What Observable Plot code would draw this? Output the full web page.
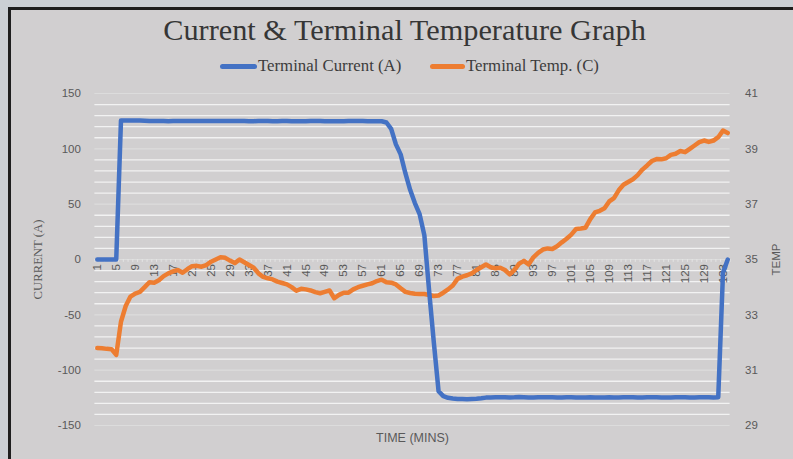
<!DOCTYPE html>
<html><head><meta charset="utf-8">
<script src="https://cdn.jsdelivr.net/npm/d3@7"></script>
<script src="https://cdn.jsdelivr.net/npm/@observablehq/plot@0.6"></script>
<style>
html,body{margin:0;padding:0;background:#cbcfd4;}
#wrap{position:relative;width:793px;height:459px;overflow:hidden;background:#cbcfd4;}
#frame{position:absolute;left:8px;top:7px;width:800px;height:470px;background:#d1cfd0;border-left:3px solid #1e1e1e;border-top:3px solid #1e1e1e;box-sizing:border-box;}
#title{position:absolute;left:8px;width:793px;top:15px;line-height:30px;text-align:center;font-family:"Liberation Serif",serif;font-size:30.3px;color:#363636;white-space:nowrap;}
.sw{position:absolute;height:5px;border-radius:3px;top:64px;}
.lt{position:absolute;top:57px;line-height:17px;font-family:"Liberation Serif",serif;font-size:16.8px;color:#3c3c3c;white-space:nowrap;}
#chart{position:absolute;left:0;top:80px;}
</style></head>
<body><div id="wrap"><div id="frame"></div>
<div id="title">Current &amp; Terminal Temperature Graph</div>
<div class="sw" style="left:220px;width:37px;background:#4472C4"></div>
<div class="lt" style="left:258px">Terminal Current (A)</div>
<div class="sw" style="left:430px;width:35px;background:#ED7D31"></div>
<div class="lt" style="left:466px">Terminal Temp. (C)</div>
<div id="chart"></div></div>
<script>
// categories: minutes 1..134
const minutes = d3.range(1, 135);
const xTickLabels = [1,5,9,13,17,21,25,29,33,37,41,45,49,53,57,61,65,69,73,77,81,85,89,93,97,101,105,109,113,117,121,125,129,133];
const leftTicks = [-150,-100,-50,0,50,100,150];
const rightTicks = [29,31,33,35,37,39,41];
const seriesNames = ["Terminal Current (A)", "Terminal Temp. (C)"];

const current = [
0,0,0,0,0,
125.5,125.7,125.7,125.6,125.6,125.4,125.2,125.1,125.2,125.1,
125.0,125.1,125.2,125.2,125.1,125.1,125.2,125.1,125.1,125.1,
125.2,125.2,125.2,125.1,125.1,125.1,125.1,125.0,125.0,125.1,
125.1,125.1,125.0,125.0,125.1,125.1,125.0,125.0,125.0,125.0,
125.1,125.1,125.1,125.0,125.0,125.0,125.0,125.0,125.1,125.1,
125.1,125.1,125.0,125.0,125.0,124.9,
123.8,118,104,95,78,63,51,41,22,-28,-75,-119,
-123.5,-125,-125.6,-126,-126.1,-126.2,-126,-125.8,-125.4,-124.8,
-124.6,-124.5,-124.4,-124.5,-124.6,-124.5,-124.3,-124.4,-124.6,-124.7,
-124.5,-124.4,-124.4,-124.5,-124.6,-124.7,-124.5,-124.4,-124.6,-124.7,
-124.6,-124.5,-124.7,-124.8,-124.6,-124.5,-124.6,-124.7,-124.5,-124.4,
-124.4,-124.6,-124.7,-124.5,-124.4,-124.5,-124.6,-124.7,-124.6,-124.5,
-124.4,-124.5,-124.6,-124.6,-124.5,-124.4,-124.5,-124.6,-124.4,
-12,0
];
const temp = [
31.8,31.79,31.77,31.76,31.55,32.75,33.32,33.66,33.77,33.83,
34.0,34.18,34.16,34.25,34.4,34.5,34.57,34.62,34.52,34.65,
34.76,34.77,34.74,34.8,34.92,35.0,35.08,35.06,34.96,34.87,
35.0,34.9,34.8,34.7,34.5,34.37,34.32,34.28,34.2,34.15,
34.1,34.0,33.87,33.94,33.92,33.88,33.82,33.78,33.83,33.88,
33.6,33.72,33.8,33.8,33.92,34.0,34.05,34.1,34.14,34.22,
34.27,34.18,34.16,34.1,33.96,33.83,33.79,33.76,33.75,33.75,
33.72,33.68,33.7,33.8,33.92,34.06,34.3,34.38,34.43,34.5,
34.62,34.72,34.82,34.72,34.68,34.7,34.62,34.46,34.62,34.85,
34.95,34.82,35.08,35.24,35.36,35.4,35.38,35.48,35.62,35.75,
35.9,36.1,36.12,36.15,36.46,36.7,36.76,36.85,37.1,37.22,
37.5,37.7,37.8,37.9,38.05,38.25,38.4,38.56,38.63,38.62,
38.66,38.78,38.82,38.92,38.88,39.0,39.12,39.24,39.3,39.25,
39.3,39.42,39.66,39.57
];

// secondary axis: temperature mapped onto the current scale (35 ↔ 0, 1 °C ↔ 25 A)
const T0 = 35, K = 25;
const toY = t => (t - T0) * K;
const rows = minutes.map((m, i) => ({m, current: current[i], temp: temp[i]}));
const minorGrid = d3.range(-150, 151, 10).filter(v => v % 50 !== 0);
const majorGrid = d3.range(-150, 151, 50);
const catEdges = d3.range(0.5, minutes.length + 1, 1);

const plot = Plot.plot({
  width: 793, height: 379,
  marginLeft: 94.4, marginRight: 63.4, marginTop: 13, marginBottom: 34,
  style: {background: "transparent", color: "#595959", fontFamily: "Liberation Sans, Arial, sans-serif", fontSize: "11.5px"},
  x: {domain: [0.5, minutes.length + 0.5], axis: null},
  y: {domain: [-150, 150], axis: null},
  marks: [
    Plot.ruleY(majorGrid, {stroke: "#dcdcdc", strokeWidth: 1.2}),
    Plot.ruleY(minorGrid, {stroke: "#f2f2f2", strokeWidth: 1.3}),
    Plot.ruleX(catEdges, {x: d => d, y1: 0, y2: -2.6, stroke: "#e4e4e4", strokeWidth: 1}),
    Plot.axisY({anchor: "left", ticks: leftTicks, tickFormat: d => String(d), tickSize: 0, tickPadding: 14, label: null, fill: "#595959", fontSize: 11.5}),
    Plot.axisY({anchor: "right", ticks: rightTicks.map(toY), tickFormat: d => String(T0 + d / K), tickSize: 0, tickPadding: 15, label: null, fill: "#595959", fontSize: 11.5}),
    Plot.text(xTickLabels, {x: d => d, y: 0, text: d => String(d), rotate: -90, textAnchor: "end", lineAnchor: "middle", dy: 4.5, fill: "#595959", fontSize: 11.5}),
    Plot.text(["CURRENT (A)"], {frameAnchor: "left", dx: -57, rotate: -90, textAnchor: "middle", lineAnchor: "middle", fontFamily: "Liberation Serif", fontSize: 12.7, fill: "#595959"}),
    Plot.text(["TEMP"], {frameAnchor: "right", dx: 46, rotate: -90, textAnchor: "middle", lineAnchor: "middle", fontSize: 11.5, fill: "#595959"}),
    Plot.text(["TIME (MINS)"], {frameAnchor: "bottom", dy: 12, textAnchor: "middle", lineAnchor: "middle", fontSize: 12.5, fill: "#595959"}),
    Plot.line(rows, {x: "m", y: d => toY(d.temp), stroke: "#ED7D31", strokeWidth: 4.5, strokeLinejoin: "round", strokeLinecap: "round", title: () => seriesNames[1]}),
    Plot.line(rows, {x: "m", y: "current", stroke: "#4472C4", strokeWidth: 4.5, strokeLinejoin: "round", strokeLinecap: "round", title: () => seriesNames[0]})
  ]
});
document.getElementById("chart").appendChild(plot);
</script>
</body></html>
